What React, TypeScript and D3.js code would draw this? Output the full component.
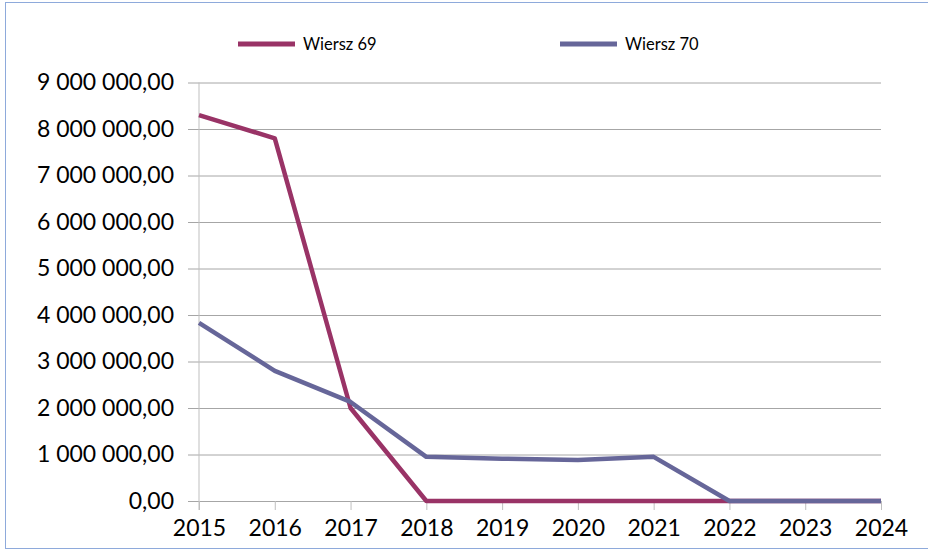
import React, { useEffect, useRef } from 'react';
import * as d3 from 'd3';

const years = [2015, 2016, 2017, 2018, 2019, 2020, 2021, 2022, 2023, 2024];
const wiersz69 = [8300000, 7800000, 2000000, 0, 0, 0, 0, 0, 0, 0];
const wiersz70 = [3830000, 2800000, 2130000, 950000, 910000, 880000, 950000, 0, 0, 0];
const seriesNames = ['Wiersz 69', 'Wiersz 70'];
const seriesColors = ['#993366', '#666699'];
const yTicks = [0, 1000000, 2000000, 3000000, 4000000, 5000000, 6000000, 7000000, 8000000, 9000000];

const fontFamily = 'Lato, "Open Sans", sans-serif';

export default function App() {
  const chartRef = useRef<SVGSVGElement>(null);

  useEffect(() => {
    const svg = d3.select(chartRef.current);
    svg.selectAll('*').remove();

    const width = 928;
    const margin = { top: 82.5, right: 46, bottom: 50, left: 199 };

    // outer frame
    svg.append('rect')
      .attr('x', 5.5).attr('y', 2.5)
      .attr('width', 930).attr('height', 546)
      .attr('fill', '#fff')
      .attr('stroke', '#8eaadb')
      .attr('stroke-width', 1);

    const x = d3.scaleLinear()
      .domain([years[0], years[years.length - 1]])
      .range([margin.left, width - margin.right - 1]);

    const y = d3.scaleLinear()
      .domain([0, 9000000])
      .range([501, margin.top]);

    const fmt = (v: number) => {
      const s = d3.format(',.2f')(v);
      return s.replace(/,/g, ' ').replace('.', ',');
    };

    // gridlines + y ticks
    const yAxis = svg.append('g')
      .attr('transform', `translate(${margin.left},0)`)
      .call(d3.axisLeft(y).tickValues(yTicks).tickSize(11).tickPadding(14).tickFormat(d => fmt(+d)));
    yAxis.select('.domain').remove();
    yAxis.selectAll('.tick line')
      .attr('x2', -11)
      .attr('stroke', '#a6a6a6');
    yAxis.selectAll('.tick').append('line')
      .attr('x1', 0).attr('x2', x(2024) - margin.left)
      .attr('stroke', '#a6a6a6');
    yAxis.selectAll('.tick text')
      .attr('font-family', fontFamily)
      .attr('font-size', 23)
      .attr('fill', '#000');

    // vertical axis line
    svg.append('line')
      .attr('x1', margin.left).attr('x2', margin.left)
      .attr('y1', y(9000000)).attr('y2', y(0) + 9)
      .attr('stroke', '#bfbfbf');

    // x axis
    const xAxis = svg.append('g')
      .attr('transform', `translate(0,${y(0)})`)
      .call(d3.axisBottom(x).tickValues(years).tickSize(9).tickPadding(10).tickFormat(d3.format('d')));
    xAxis.select('.domain').remove();
    xAxis.selectAll('.tick line').attr('stroke', '#bfbfbf');
    xAxis.selectAll('.tick text')
      .attr('font-family', fontFamily)
      .attr('font-size', 23)
      .attr('fill', '#000');

    const line = d3.line<number>()
      .x((d, i) => x(years[i]))
      .y(d => y(d));

    [wiersz69, wiersz70].forEach((s, i) => {
      svg.append('path')
        .datum(s)
        .attr('fill', 'none')
        .attr('stroke', seriesColors[i])
        .attr('stroke-width', 4.5)
        .attr('stroke-linejoin', 'round')
        .attr('d', line);
    });

    // legend
    const legendX = [238, 560];
    seriesNames.forEach((name, i) => {
      const g = svg.append('g').attr('transform', `translate(${legendX[i]},44)`);
      g.append('line')
        .attr('x1', 0).attr('x2', 57)
        .attr('stroke', seriesColors[i])
        .attr('stroke-width', 5);
      g.append('text')
        .attr('x', 65).attr('y', 6)
        .attr('font-family', fontFamily)
        .attr('font-size', 16.5)
        .attr('fill', '#000')
        .text(name);
    });
  }, []);

  return (
    <svg
      ref={chartRef}
      width={928}
      height={551}
      style={{ position: 'absolute', left: 0, top: 0 }}
    />
  );
}
